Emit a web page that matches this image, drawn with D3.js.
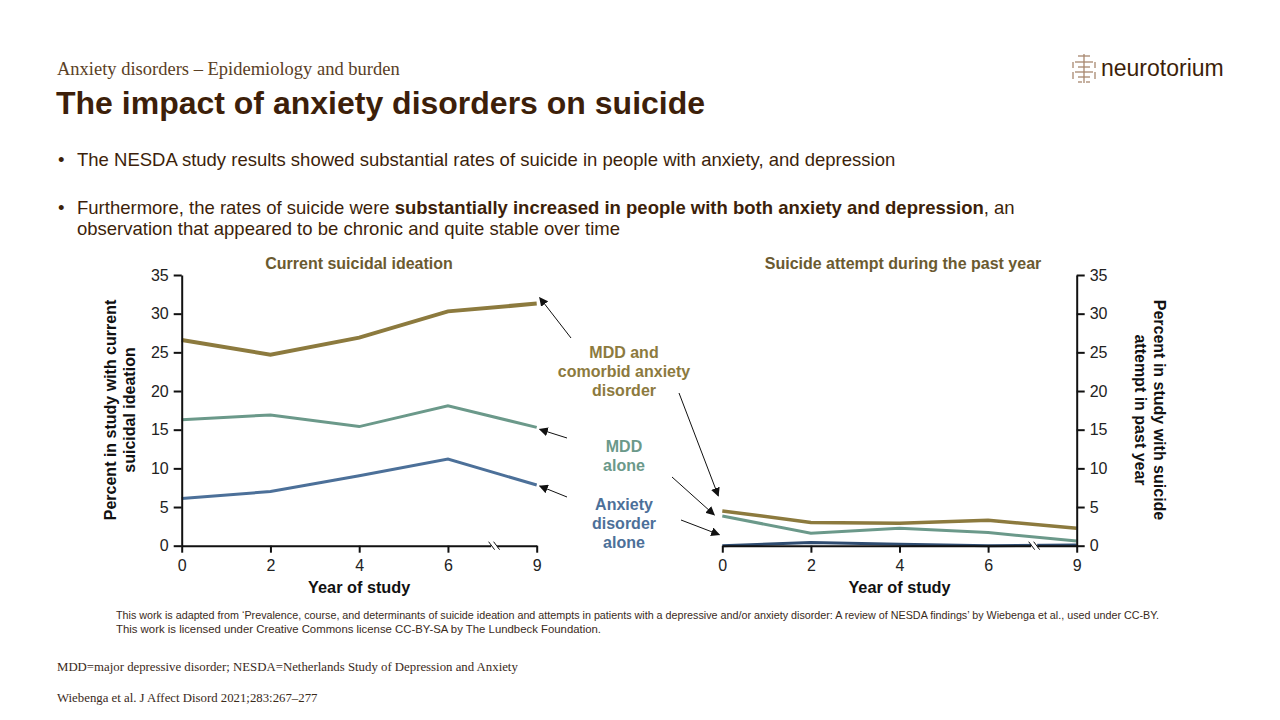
<!DOCTYPE html>
<html>
<head>
<meta charset="utf-8">
<script src="https://cdn.jsdelivr.net/npm/d3@7"></script>
<style>
body{margin:0;background:#fff;}
svg{display:block;font-family:Arial,"Liberation Sans",sans-serif;}
.tick text{font-size:16px;fill:#222;}
.axis path,.axis line{stroke:#111;stroke-width:2;}
</style>
</head>
<body>
<svg id="slide" width="1280" height="720"></svg>
<script>
//chart data
var years = ["0","2","4","6","9"];
var yTicks = [0,5,10,15,20,25,30,35];
var ideationComorbid = [26.6,24.7,26.9,30.3,31.3];
var ideationMDD = [16.3,16.9,15.4,18.1,15.3];
var ideationAnxiety = [6.1,7.0,9.05,11.2,7.85];
var attemptComorbid = [4.5,3.0,2.9,3.3,2.25];
var attemptMDD = [3.85,1.6,2.25,1.7,0.6];
var attemptAnxiety = [0.0,0.4,0.2,0.0,0.1];

var colors = {comorbid:"#8c7a3e",mdd:"#6b998a",anxiety:"#4c7099",anxRight:"#2f4c70"};
var brown = "#3d1f0a";

var svg = d3.select("#slide");

//////////////////////////////////////////////////////////////
//header text
var drawHeader = function()
{
    svg.append("text")
        .text("Anxiety disorders \u2013 Epidemiology and burden")
        .attr("x",57).attr("y",75)
        .attr("font-family","'Liberation Serif','Times New Roman',serif")
        .attr("font-size",18.5)
        .attr("fill","#5a4025")

    svg.append("text")
        .text("The impact of anxiety disorders on suicide")
        .attr("x",56).attr("y",114)
        .attr("font-size",32)
        .attr("font-weight","bold")
        .attr("fill",brown)

    var bullets = svg.append("g")
        .attr("font-size",18.5)
        .attr("fill",brown)

    bullets.append("text").text("\u2022").attr("x",58).attr("y",166)
    bullets.append("text")
        .text("The NESDA study results showed substantial rates of suicide in people with anxiety, and depression")
        .attr("x",77).attr("y",166)

    bullets.append("text").text("\u2022").attr("x",58).attr("y",214)
    var t2 = bullets.append("text").attr("x",77).attr("y",214)
    t2.append("tspan").text("Furthermore, the rates of suicide were ")
    t2.append("tspan").text("substantially increased in people with both anxiety and depression").attr("font-weight","bold")
    t2.append("tspan").text(", an")
    bullets.append("text")
        .text("observation that appeared to be chronic and quite stable over time")
        .attr("x",77).attr("y",235)
}

//////////////////////////////////////////////////////////////
//logo
var drawLogo = function()
{
    var logo = svg.append("g")
        .attr("transform","translate(1072,54)")
        .attr("stroke","#a8876f")
        .attr("stroke-width",1.3)
        .attr("fill","none")
    var paths = ["M12,0 V29","M6,2 H18","M3,8 H21","M1,8 V14","M23,8 V14","M6,13 H18",
                 "M3,18 H21","M1,18 V25","M23,18 V25","M6,23 H18","M6,28 H10","M14,28 H18"]
    logo.selectAll("path").data(paths).enter().append("path").attr("d",function(d){return d})

    svg.append("text")
        .text("neurotorium")
        .attr("x",1101).attr("y",76)
        .attr("font-size",23)
        .attr("fill",brown)
}

//////////////////////////////////////////////////////////////
//one panel
var drawPanel = function(opts)
{
    var xScale = d3.scalePoint()
        .domain(years)
        .range(opts.xRange)

    var yScale = d3.scaleLinear()
        .domain([0,35])
        .range([545.7,275])

    var xAxis = d3.axisBottom(xScale).tickSizeInner(7).tickSizeOuter(0).tickPadding(4);
    var yAxis = (opts.side=="left" ? d3.axisLeft(yScale) : d3.axisRight(yScale))
        .tickValues(yTicks).tickSizeInner(8).tickSizeOuter(0).tickPadding(5);

    var lineGenerator = d3.line()
        .x(function(v,i){return xScale(years[i])})
        .y(function(v){return yScale(v)})

    var lines = svg.append("g").attr("fill","none")
    opts.series.forEach(function(s)
    {
        lines.append("path")
            .datum(s.values)
            .attr("d",lineGenerator)
            .attr("stroke",s.color)
            .attr("stroke-width",s.width)
    })

    var gx = svg.append("g")
        .classed("axis",true)
        .attr("transform","translate(0,"+yScale(0)+")")
        .call(xAxis)
    gx.selectAll(".tick text").attr("dy","0.9em")

    var yPos = opts.side=="left" ? opts.xRange[0] : opts.xRange[1];
    svg.append("g")
        .classed("axis",true)
        .attr("transform","translate("+yPos+",0)")
        .call(yAxis)

    //axis break on the x axis between 6 and 9
    var bx = opts.xRange[0]+(opts.xRange[1]-opts.xRange[0])*0.88;
    var brk = svg.append("g")
    brk.append("rect").attr("x",bx-3).attr("y",yScale(0)-3).attr("width",6).attr("height",6).attr("fill","#fff")
    brk.selectAll("line").data([-2.5,2.5]).enter().append("line")
        .attr("x1",function(d){return bx+d-3}).attr("y1",yScale(0)-4)
        .attr("x2",function(d){return bx+d+3}).attr("y2",yScale(0)+4)
        .attr("stroke","#111").attr("stroke-width",1)

    //titles
    var mid = (opts.xRange[0]+opts.xRange[1])/2;
    svg.append("text")
        .text(opts.title)
        .attr("x",opts.titleX).attr("y",269)
        .attr("text-anchor","middle")
        .attr("font-size",16).attr("font-weight","bold")
        .attr("fill","#6b5a30")

    svg.append("text")
        .text("Year of study")
        .attr("x",mid).attr("y",593)
        .attr("text-anchor","middle")
        .attr("font-size",16.3).attr("font-weight","bold")
        .attr("fill","#111")

    var yl = svg.append("g")
        .attr("transform","translate("+opts.yLabelX+",410) rotate("+(opts.side=="left"?-90:90)+")")
    yl.selectAll("text").data(opts.yLabel).enter().append("text")
        .text(function(d){return d})
        .attr("x",0)
        .attr("y",function(d,i){return i*19})
        .attr("text-anchor","middle")
        .attr("font-size",16).attr("font-weight","bold")
        .attr("fill","#111")

    return {x:xScale,y:yScale}
}

//////////////////////////////////////////////////////////////
var drawLabels = function(left,right)
{
    var labels = svg.append("g")
        .attr("text-anchor","middle")
        .attr("font-size",16)
        .attr("font-weight","bold")

    var blocks = [
        {lines:["MDD and","comorbid anxiety","disorder"],y:358,color:colors.comorbid},
        {lines:["MDD","alone"],y:452,color:colors.mdd},
        {lines:["Anxiety","disorder","alone"],y:510,color:colors.anxiety}
    ]
    blocks.forEach(function(b)
    {
        labels.selectAll(null).data(b.lines).enter().append("text")
            .text(function(d){return d})
            .attr("x",624)
            .attr("y",function(d,i){return b.y+i*19})
            .attr("fill",b.color)
    })

    svg.append("defs").append("marker")
        .attr("id","arrow")
        .attr("viewBox","0 0 10 10")
        .attr("refX",9).attr("refY",5)
        .attr("markerWidth",9).attr("markerHeight",9)
        .attr("markerUnits","userSpaceOnUse")
        .attr("orient","auto")
        .append("path").attr("d","M0,0 L10,5 L0,10 z").attr("fill","#111")

    var x9 = left.x("9"), x0 = right.x("0");
    var arrows = [
        [571,338, x9+3, left.y(ideationComorbid[4])-6],
        [567,438, x9+3, left.y(ideationMDD[4])+2],
        [567,497, x9+3, left.y(ideationAnxiety[4])+1],
        [679,393, x0-4, right.y(attemptComorbid[0])-15],
        [672,477, x0-8, right.y(attemptMDD[0])-1],
        [681,520, x0-3, right.y(attemptAnxiety[0])-11]
    ]
    svg.append("g").selectAll("line").data(arrows).enter().append("line")
        .attr("x1",function(d){return d[0]}).attr("y1",function(d){return d[1]})
        .attr("x2",function(d){return d[2]}).attr("y2",function(d){return d[3]})
        .attr("stroke","#111").attr("stroke-width",1)
        .attr("marker-end","url(#arrow)")
}

//////////////////////////////////////////////////////////////
var drawFooter = function()
{
    var f = svg.append("g").attr("font-size",11).attr("fill","#3a2a1a")
    f.append("text")
        .text("This work is adapted from \u2018Prevalence, course, and determinants of suicide ideation and attempts in patients with a depressive and/or anxiety disorder: A review of NESDA findings\u2019 by Wiebenga et al., used under CC-BY.")
        .attr("x",116).attr("y",619).attr("textLength",1043).attr("lengthAdjust","spacingAndGlyphs")
    f.append("text")
        .text("This work is licensed under Creative Commons license CC-BY-SA by The Lundbeck Foundation.")
        .attr("x",116).attr("y",633).attr("textLength",485).attr("lengthAdjust","spacingAndGlyphs")

    var s = svg.append("g")
        .attr("font-family","'Liberation Serif','Times New Roman',serif")
        .attr("font-size",12.8).attr("fill","#3a2a1a")
    s.append("text").text("MDD=major depressive disorder; NESDA=Netherlands Study of Depression and Anxiety")
        .attr("x",57).attr("y",671)
    s.append("text").text("Wiebenga et al. J Affect Disord 2021;283:267\u2013277")
        .attr("x",57).attr("y",702)
}

//////////////////////////////////////////////////////////////
drawHeader();
drawLogo();

var left = drawPanel({
    side:"left",
    xRange:[181.7,536.7],
    title:"Current suicidal ideation",
    titleX:359,
    yLabel:["Percent in study with current","suicidal ideation"],
    yLabelX:116,
    series:[
        {values:ideationComorbid,color:colors.comorbid,width:4},
        {values:ideationMDD,color:colors.mdd,width:3},
        {values:ideationAnxiety,color:colors.anxiety,width:3}
    ]
})

var right = drawPanel({
    side:"right",
    xRange:[722.3,1076.7],
    title:"Suicide attempt during the past year",
    titleX:903,
    yLabel:["Percent in study with suicide","attempt in past year"],
    yLabelX:1154,
    series:[
        {values:attemptComorbid,color:colors.comorbid,width:3.5},
        {values:attemptMDD,color:colors.mdd,width:3},
        {values:attemptAnxiety,color:colors.anxRight,width:3}
    ]
})

drawLabels(left,right);
drawFooter();
</script>
</body>
</html>
